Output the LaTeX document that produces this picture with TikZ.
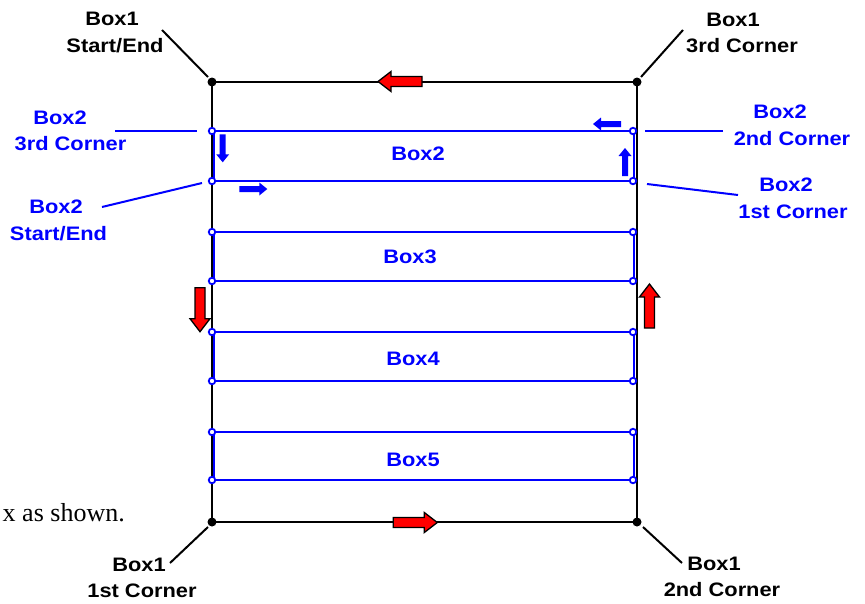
\documentclass[tikz,border=0pt]{standalone}
\usepackage{fontspec}
\setmainfont{Liberation Sans}[FakeStretch=1.12]
\newfontfamily\serifx{Liberation Serif}
\definecolor{bblue}{RGB}{0,0,255}
\definecolor{rred}{RGB}{255,0,0}
\begin{document}
\begin{tikzpicture}[x=1pt,y=-1pt,
  lbl/.style={inner sep=0pt, anchor=base, font=\fontsize{19.5}{24}\selectfont\bfseries},
  blbl/.style={lbl, text=bblue},
  blk/.style={line width=2.6pt, black},
  bln/.style={line width=2.6pt, bblue},
  lead/.style={line width=2pt, black},
  blead/.style={line width=2pt, bblue},
  bdot/.style={circle, fill=black, inner sep=0pt, minimum size=9pt},
  wdot/.style={circle, fill=white, draw=bblue, line width=1.8pt, inner sep=0pt, minimum size=6.5pt},
  redarr/.pic={\draw[fill=rred, line width=1.3pt, line join=miter] (-22,-5) -- (9,-5) -- (9,-10) -- (22,0) -- (9,10) -- (9,5) -- (-22,5) -- cycle;},
  bluearr/.pic={\fill[bblue] (-14,-3) -- (6,-3) -- (6,-6.5) -- (14,0) -- (6,6.5) -- (6,3) -- (-14,3) -- cycle;}
]
\useasboundingbox (0,0) rectangle (865,603);

% outer box
\coordinate (A1) at (212,82);
\coordinate (A2) at (637,82);
\coordinate (A3) at (637,522);
\coordinate (A4) at (212,522);
\draw[blk] (A1) -- (A2) -- (A3) -- (A4) -- cycle;

% blue boxes
\foreach \ya/\yb/\n in {131/181/2, 232/281/3, 332/381/4, 432/480/5}{
  \draw[bln] (212,\ya) -- (634,\ya) -- (634,\yb) -- (212,\yb);
  \draw[bln] (214,\ya) -- (214,\yb);
  \node[wdot] (c\n a) at (212,\ya) {};
  \node[wdot] (c\n b) at (212,\yb) {};
  \node[wdot] (c\n c) at (633,\ya) {};
  \node[wdot] (c\n d) at (633,\yb) {};
}

\node[bdot] (d1) at (A1) {};
\node[bdot] (d2) at (A2) {};
\node[bdot] (d3) at (A3) {};
\node[bdot] (d4) at (A4) {};

% box labels
\node[blbl] (t2) at (418,160.7) {Box2};
\node[blbl] (t3) at (410,263) {Box3};
\node[blbl] (t4) at (413,365) {Box4};
\node[blbl] (t5) at (413,466) {Box5};

% red arrows
\pic[rotate=180] at (400,81.5) {redarr};
\pic at (415.3,522.5) {redarr};
\pic[rotate=-90] at (200,309.7) {redarr};
\pic[rotate=90] at (649.5,306) {redarr};

% blue arrows
\pic[rotate=180] at (607,124) {bluearr};
\pic[rotate=-90] at (222.7,148.3) {bluearr};
\pic[rotate=90] at (625,162) {bluearr};
\pic at (253.3,189) {bluearr};

% Box1 labels
\node[lbl] (l1a) at (112,25.7) {Box1};
\node[lbl] (l1b) at (115,52.3) {Start/End};
\coordinate (e1) at (162,30);
\coordinate (f1) at (208,77);
\draw[lead] (e1) -- (f1);

\node[lbl] (l2a) at (733,26) {Box1};
\node[lbl] (l2b) at (742,52.3) {3rd Corner};
\coordinate (e2) at (683,30);
\coordinate (f2) at (641,77);
\draw[lead] (e2) -- (f2);

\node[lbl] (l3a) at (139,571.7) {Box1};
\node[lbl] (l3b) at (142,597) {1st Corner};
\coordinate (e3) at (170,563);
\coordinate (f3) at (208,527);
\draw[lead] (e3) -- (f3);

\node[lbl] (l4a) at (714,570.7) {Box1};
\node[lbl] (l4b) at (722,596.7) {2nd Corner};
\coordinate (e4) at (682,563);
\coordinate (f4) at (643,527);
\draw[lead] (e4) -- (f4);

% Box2 labels
\node[blbl] (m1a) at (60,124) {Box2};
\node[blbl] (m1b) at (70.5,150.7) {3rd Corner};
\coordinate (g1) at (115,131);
\coordinate (h1) at (197,131);
\draw[blead] (g1) -- (h1);

\node[blbl] (m2a) at (56,213) {Box2};
\node[blbl] (m2b) at (58.5,240.7) {Start/End};
\coordinate (g2) at (102,207);
\coordinate (h2) at (202,183);
\draw[blead] (g2) -- (h2);

\node[blbl] (m3a) at (780,118) {Box2};
\node[blbl] (m3b) at (792,145) {2nd Corner};
\coordinate (g3) at (723,131);
\coordinate (h3) at (645,131);
\draw[blead] (g3) -- (h3);

\node[blbl] (m4a) at (786,191.7) {Box2};
\node[blbl] (m4b) at (793,218) {1st Corner};
\coordinate (g4) at (738,195);
\coordinate (h4) at (647,184);
\draw[blead] (g4) -- (h4);

% cut-off text
\node[inner sep=0pt, anchor=base east, font=\serifx\fontsize{26}{30}\selectfont] (cut) at (125,521) {x as shown.};
\end{tikzpicture}
\end{document}
